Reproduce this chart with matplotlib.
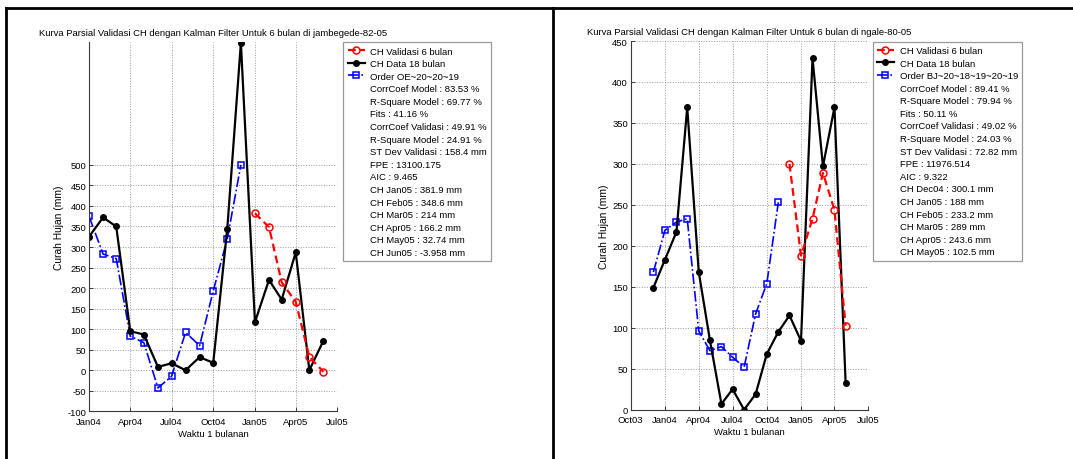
import numpy as np
import matplotlib
matplotlib.use("Agg")
import matplotlib.pyplot as plt
import matplotlib.dates as mdates
from matplotlib.lines import Line2D

plt.rcParams['font.family'] = ['Liberation Sans', 'DejaVu Sans']
plt.rcParams['axes.unicode_minus'] = False

# ---------------- data: left panel (jambegede-82-05) ----------------
left_data_months = ['2004-01', '2004-02', '2004-03', '2004-04', '2004-05', '2004-06',
                    '2004-07', '2004-08', '2004-09', '2004-10', '2004-11', '2004-12',
                    '2005-01', '2005-02', '2005-03', '2005-04', '2005-05', '2005-06']
left_data = [325, 372, 350, 95, 87, 8, 17, 0, 32, 18, 345, 797,
             117, 220, 172, 287, 0, 72]
left_model_months = left_data_months[:12]
left_model = [375, 283, 272, 83, 67, -43, -15, 92, 60, 193, 320, 500]
left_valid_months = left_data_months[12:]
left_valid = [381.9, 348.6, 214, 166.2, 32.74, -3.958]
left_title = 'Kurva Parsial Validasi CH dengan Kalman Filter Untuk 6 bulan di jambegede-82-05'
left_labels = ['CH Validasi 6 bulan', 'CH Data 18 bulan', 'Order OE~20~20~19',
               'CorrCoef Model : 83.53 %', 'R-Square Model : 69.77 %', 'Fits : 41.16 %',
               'CorrCoef Validasi : 49.91 %', 'R-Square Model : 24.91 %',
               'ST Dev Validasi : 158.4 mm', 'FPE : 13100.175', 'AIC : 9.465',
               'CH Jan05 : 381.9 mm', 'CH Feb05 : 348.6 mm', 'CH Mar05 : 214 mm',
               'CH Apr05 : 166.2 mm', 'CH May05 : 32.74 mm', 'CH Jun05 : -3.958 mm']
left_yticks = [-100, -50, 0, 50, 100, 150, 200, 250, 300, 350, 400, 450, 500]

# ---------------- data: right panel (ngale-80-05) ----------------
right_data_months = ['2003-12', '2004-01', '2004-02', '2004-03', '2004-04', '2004-05',
                     '2004-06', '2004-07', '2004-08', '2004-09', '2004-10', '2004-11',
                     '2004-12', '2005-01', '2005-02', '2005-03', '2005-04', '2005-05']
right_data = [149, 183, 217, 369, 168, 85, 7, 25, 0, 19, 68, 95,
              115, 84, 429, 297, 369, 33]
right_model_months = right_data_months[:12]
right_model = [168, 219, 229, 233, 96, 72, 77, 64, 52, 117, 154, 253]
right_valid_months = right_data_months[12:]
right_valid = [300.1, 188, 233.2, 289, 243.6, 102.5]
right_title = 'Kurva Parsial Validasi CH dengan Kalman Filter Untuk 6 bulan di ngale-80-05'
right_labels = ['CH Validasi 6 bulan', 'CH Data 18 bulan', 'Order BJ~20~18~19~20~19',
                'CorrCoef Model : 89.41 %', 'R-Square Model : 79.94 %', 'Fits : 50.11 %',
                'CorrCoef Validasi : 49.02 %', 'R-Square Model : 24.03 %',
                'ST Dev Validasi : 72.82 mm', 'FPE : 11976.514', 'AIC : 9.322',
                'CH Dec04 : 300.1 mm', 'CH Jan05 : 188 mm', 'CH Feb05 : 233.2 mm',
                'CH Mar05 : 289 mm', 'CH Apr05 : 243.6 mm', 'CH May05 : 102.5 mm']
right_yticks = [0, 50, 100, 150, 200, 250, 300, 350, 400, 450]

xlabel = 'Waktu 1 bulanan'
ylabel = 'Curah Hujan (mm)'

FS = 6.8
AXC = '#3a3a3a'


def to_dates(months):
    return np.array([np.datetime64(m + '-01') for m in months]).astype('datetime64[D]')


def draw_panel(fig, rect, data_m, data, model_m, model, valid_m, valid,
               title, labels, yticks, ylim, xlim, leg_anchor):
    ax = fig.add_axes(rect)
    hb, = ax.plot(to_dates(model_m), model, linestyle='-.', color='#0000ff', lw=1.2,
                  marker='s', ms=4.5, mfc='none', mec='#0000ff', mew=1.1)
    hk, = ax.plot(to_dates(data_m), data, linestyle='-', color='black', lw=1.6,
                  marker='o', ms=4, mfc='black', mec='black')
    hr, = ax.plot(to_dates(valid_m), valid, linestyle='--', color='#ff0000', lw=1.6,
                  marker='o', ms=5, mfc='none', mec='#ff0000', mew=1.1, dashes=(3.5, 2))
    ax.set_xlim(np.datetime64(xlim[0]), np.datetime64(xlim[1]))
    ax.set_ylim(*ylim)
    ax.set_yticks(yticks)
    ax.xaxis.set_major_locator(mdates.MonthLocator(bymonth=[1, 4, 7, 10]))
    ax.xaxis.set_major_formatter(mdates.DateFormatter('%b%y'))
    for s in ['top', 'right']:
        ax.spines[s].set_visible(False)
    for s in ['left', 'bottom']:
        ax.spines[s].set_color(AXC)
        ax.spines[s].set_linewidth(0.8)
    ax.tick_params(direction='in', length=3, width=0.7, colors=AXC,
                   labelcolor='black', labelsize=FS)
    ax.tick_params(axis='y', pad=2)
    ax.tick_params(axis='x', pad=4)
    ax.grid(True, linestyle=':', color='#9a9a9a', lw=0.7)
    ax.set_axisbelow(True)
    ax.set_title(title, fontsize=FS, pad=5)
    ax.set_xlabel(xlabel, fontsize=FS, labelpad=2)
    ax.set_ylabel(ylabel, fontsize=7.4, labelpad=2.5)

    handles = [hr, hk, hb] + [Line2D([], [], linestyle='none') for _ in labels[3:]]
    leg = ax.legend(handles, labels, loc='upper left', bbox_to_anchor=leg_anchor,
                    bbox_transform=fig.transFigure, borderaxespad=0, fontsize=FS,
                    frameon=True, fancybox=False, framealpha=1, edgecolor='#999999',
                    labelspacing=0.38, handlelength=1.8, handletextpad=0.6,
                    borderpad=0.45, numpoints=1)
    leg.get_frame().set_linewidth(0.9)
    return ax


fig = plt.figure(figsize=(10.73, 4.60), dpi=100)

draw_panel(fig, [0.08295, 0.10370, 0.23113, 0.80348],
           left_data_months, left_data, left_model_months, left_model,
           left_valid_months, left_valid, left_title, left_labels, left_yticks,
           (-100, 800), ('2004-01-01', '2005-07-01'), (0.31994, 0.90587))

draw_panel(fig, [0.58779, 0.10717, 0.22144, 0.80152],
           right_data_months, right_data, right_model_months, right_model,
           right_valid_months, right_valid, right_title, right_labels, right_yticks,
           (0, 450), ('2003-10-01', '2005-07-01'), (0.81333, 0.90717))

# page border lines
ytop = 1 - 9.3 / 460
fig.add_artist(Line2D([6.3 / 1073, 1.0], [ytop, ytop], transform=fig.transFigure,
                      color='black', lw=2))
fig.add_artist(Line2D([6.3 / 1073, 6.3 / 1073], [0, ytop], transform=fig.transFigure,
                      color='black', lw=2))
fig.add_artist(Line2D([552.7 / 1073, 552.7 / 1073], [0, ytop], transform=fig.transFigure,
                      color='black', lw=2))

fig.savefig('out.png', dpi=100)
